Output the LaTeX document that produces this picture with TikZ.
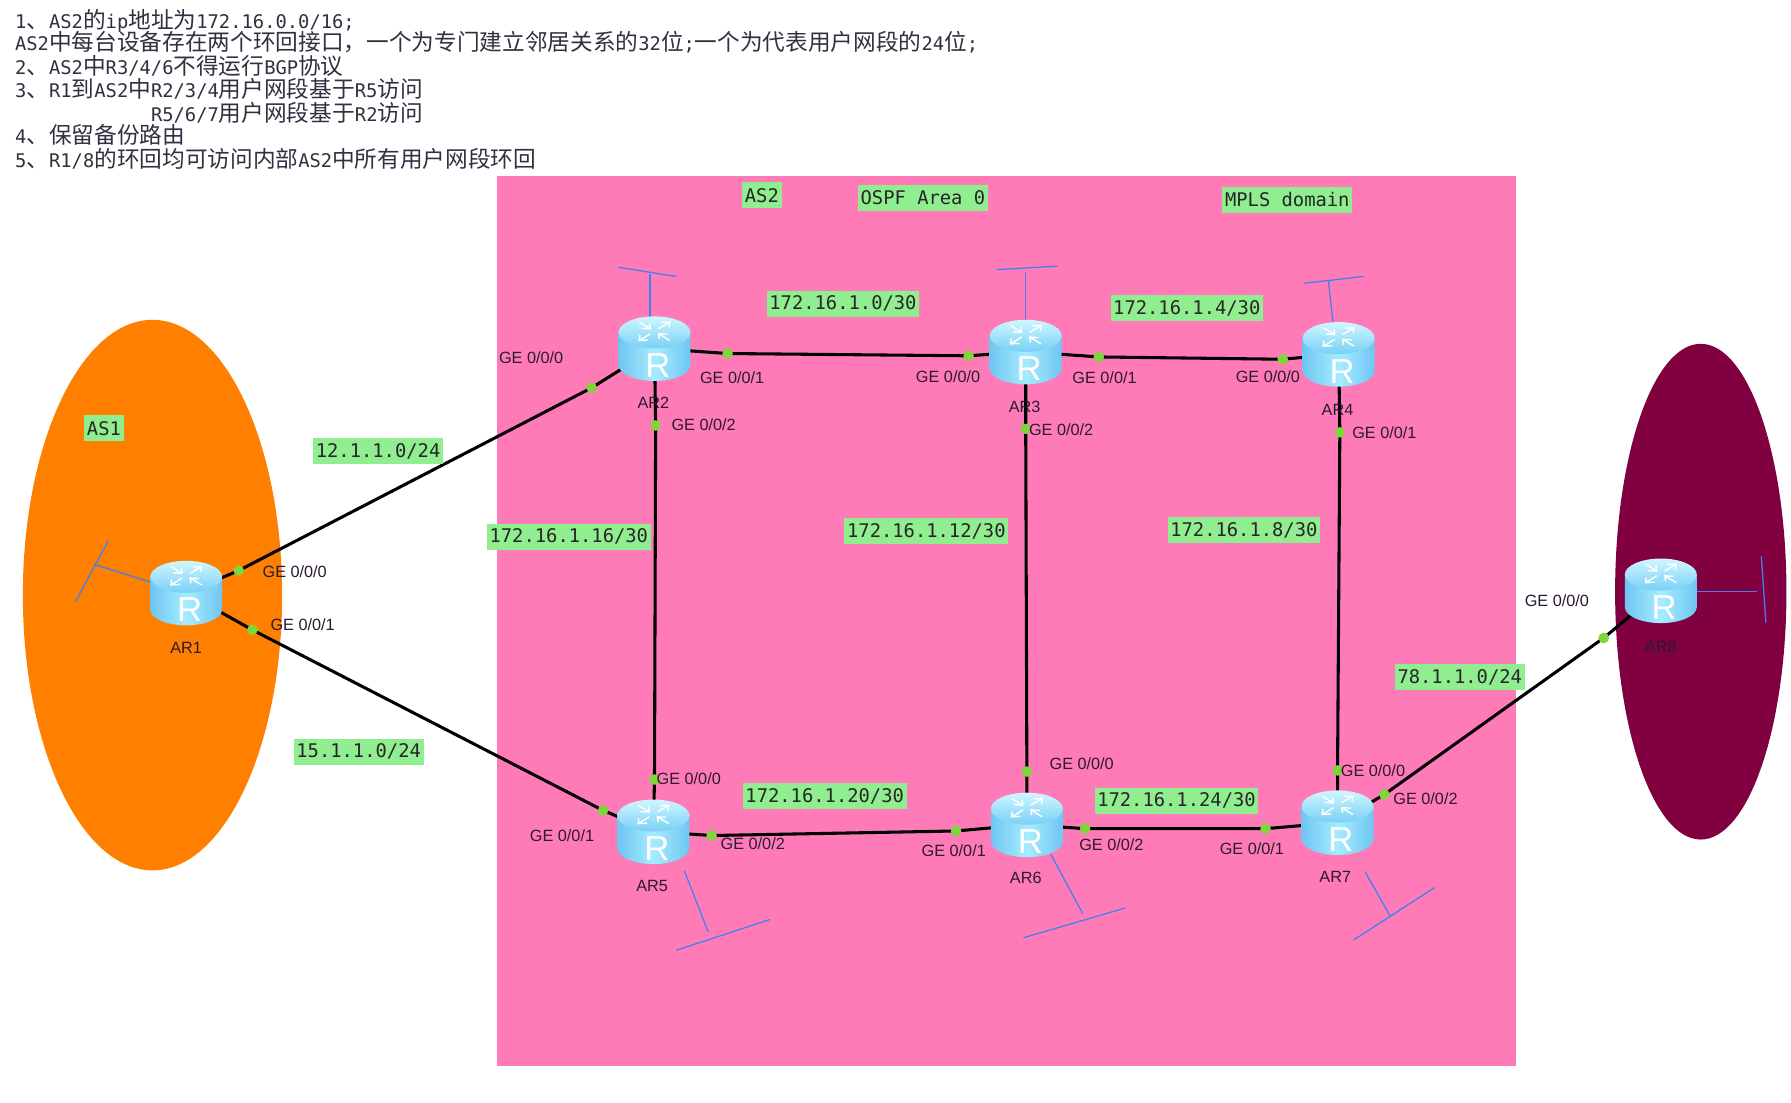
\documentclass[tikz,border=0pt]{standalone}
\usepackage{fontspec}
\setmainfont{Liberation Sans}
\newfontfamily\cjkfont{Noto Sans CJK SC}
\newfontfamily\codefont{DejaVu Sans Mono}
\usetikzlibrary{calc}
\definecolor{zonepink}{HTML}{FF7BB8}
\definecolor{zoneorange}{HTML}{FF8000}
\definecolor{zonemaroon}{HTML}{800040}
\definecolor{tagfill}{HTML}{90EE90}
\definecolor{portgreen}{HTML}{7FD63A}
\definecolor{loopblue}{HTML}{4080F0}
\definecolor{inktext}{HTML}{2A1A30}
\definecolor{headtext}{HTML}{303040}
\definecolor{routeredge}{HTML}{6FC6F2}
\definecolor{routermid}{HTML}{A6ECFF}
\definecolor{routertop}{HTML}{D0F6FF}
\definecolor{routertopb}{HTML}{78D0F6}
\pgfdeclarelayer{zones}
\pgfdeclarelayer{links}
\pgfsetlayers{zones,links,main}
\tikzset{
  x=0.8567pt,y=-0.8567pt,
  link/.style={line width=2.3pt,black},
  loop/.style={line width=0.95pt,loopblue},
  portdot/.style={circle,fill=portgreen,inner sep=0pt,minimum size=8pt},
  porttext/.style={font=\fontsize{12.2}{14}\selectfont,text=inktext,inner sep=0pt,yshift=-0.8pt},
  tag/.style={fill=tagfill,font=\codefont\fontsize{14.1}{16}\selectfont,text=black!85,
    inner sep=0pt,inner xsep=2pt,minimum height=19.5pt,yshift=-0.8pt},
  routerbox/.style={inner sep=0pt,minimum width=54pt,minimum height=49pt},
  headline/.style={anchor=base west,inner sep=0pt,text=headtext,yshift=-1.3pt,
    font=\codefont\fontsize{14.1}{16}\selectfont},
  arrowmark/.style={white,line width=1.05pt,line join=miter},
}
\newcommand{\cn}[1]{{\cjkfont\fontsize{17}{19}\selectfont #1}}

% Cylinder-shaped router icon with its four crossing arrows and the letter R
\newcommand{\routericon}[3]{%
  \node[routerbox] (#1) at (#2,#3) {};
  \begin{scope}[shift={(#1.center)}]
    \shade[left color=routeredge,right color=routeredge,middle color=routermid]
      (-31.5,-14) -- (-31.5,14.5) arc[start angle=180,end angle=0,x radius=31.5,y radius=14]
      -- (31.5,-14) -- cycle;
    \shade[top color=routertop,bottom color=routertopb]
      (0,-14) ellipse[x radius=31.5,y radius=14];
    % two arrows point outwards, two point inwards
    \foreach \a in {45,225}{
      \begin{scope}[shift={(0,-15)},yscale=0.6,rotate=\a]
        \draw[arrowmark] (5,0) -- (19,0) (13,-5) -- (19,0) -- (13,5);
      \end{scope}
    }
    \foreach \a in {135,315}{
      \begin{scope}[shift={(0,-15)},yscale=0.6,rotate=\a]
        \draw[arrowmark] (19,0) -- (5,0) (11,-5) -- (5,0) -- (11,5);
      \end{scope}
    }
    \node[text=white,inner sep=0pt,font=\fontsize{26}{28}\selectfont] (#1-letter) at (3,15) {R};
  \end{scope}}

% Loopback stub: a short stem ending on a crossbar
\newcommand{\loopback}[9]{%
  \coordinate (#1-a) at (#2,#3);
  \coordinate (#1-b) at (#4,#5);
  \coordinate (#1-c) at (#6,#7);
  \coordinate (#1-d) at (#8,#9);
  \draw[loop] (#1-a) -- (#1-b);
  \draw[loop] (#1-c) -- (#1-d);}

\begin{document}
\begin{tikzpicture}
\useasboundingbox (0,0) rectangle (1568,964.8);

\begin{pgfonlayer}{zones}
  \fill[white] (0,0) rectangle (1568,964.8);
  \fill[zonepink] (435,154) rectangle (1327,933.5);
  \fill[zoneorange] (133.5,521) ellipse[x radius=113.5,y radius=241];
  \fill[zonemaroon] (1489,518) ellipse[x radius=75,y radius=217];
\end{pgfonlayer}

% Requirements list
\node[headline] (h1) at (13,23) {1\cn{、}AS2\cn{的}ip\cn{地址为}172.16.0.0/16;};
\node[headline] (h2) at (13,43) {AS2\cn{中每台设备存在两个环回接口，一个为专门建立邻居关系的}32\cn{位};\cn{一个为代表用户网段的}24\cn{位};};
\node[headline] (h3) at (13,63.5) {2\cn{、}AS2\cn{中}R3/4/6\cn{不得运行}BGP\cn{协议}};
\node[headline] (h4) at (13,84) {3\cn{、}R1\cn{到}AS2\cn{中}R2/3/4\cn{用户网段基于}R5\cn{访问}};
\node[headline] (h5) at (132,104.5) {R5/6/7\cn{用户网段基于}R2\cn{访问}};
\node[headline] (h6) at (13,124.5) {4\cn{、保留备份路由}};
\node[headline] (h7) at (13,145) {5\cn{、}R1/8\cn{的环回均可访问内部}AS2\cn{中所有用户网段环回}};

% Routers
\routericon{AR1}{163}{519}
\routericon{AR2}{573}{305}
\routericon{AR3}{898}{308}
\routericon{AR4}{1172}{310}
\routericon{AR5}{572}{728}
\routericon{AR6}{899}{722}
\routericon{AR7}{1171}{720}
\routericon{AR8}{1454}{517}

% Interface dots
\foreach \n/\x/\y in {
  a/209/499.5, b/518/339.5, c/221/551.5, d/528/709.5,
  e/637/309.5, f/848/311.5, g/962/312.5, h/1123/314.5,
  i/574/372.5, j/573/682.5, k/898/375.5, l/899/675.5,
  m/1173/378.5, n/1171/674.5, o/623/731.5, p/837/727.5,
  q/950/725.5, r/1108/725.5, s/1212/695.5, t/1404/558.5}
  \node[portdot] (dot\n) at (\x,\y) {};

% Links and loopback stubs run underneath the routers and dots
\begin{pgfonlayer}{links}
  \draw[link] (AR1.center) -- (dota.center) -- (dotb.center) -- (AR2.center);
  \draw[link] (AR1.center) -- (dotc.center) -- (dotd.center) -- (AR5.center);
  \draw[link] (AR2.center) -- (dote.center) -- (dotf.center) -- (AR3.center);
  \draw[link] (AR3.center) -- (dotg.center) -- (doth.center) -- (AR4.center);
  \draw[link] (AR2.center) -- (doti.center) -- (dotj.center) -- (AR5.center);
  \draw[link] (AR3.center) -- (dotk.center) -- (dotl.center) -- (AR6.center);
  \draw[link] (AR4.center) -- (dotm.center) -- (dotn.center) -- (AR7.center);
  \draw[link] (AR5.center) -- (doto.center) -- (dotp.center) -- (AR6.center);
  \draw[link] (AR6.center) -- (dotq.center) -- (dotr.center) -- (AR7.center);
  \draw[link] (AR7.center) -- (dots.center) -- (dott.center) -- (AR8.center);

  \loopback{lo1}{133}{510}{82}{494}{95}{473}{66}{527}
  \loopback{lo2}{569}{278}{569}{240}{541}{234}{592}{242}
  \loopback{lo3}{898}{280}{898}{238}{873}{236}{926}{233}
  \loopback{lo4}{1167}{282}{1163}{246}{1142}{248}{1194}{242}
  \loopback{lo5}{599}{762}{620}{816}{592}{832}{674}{805}
  \loopback{lo6}{920}{748}{948}{800}{896}{821}{985}{795}
  \loopback{lo7}{1195}{763}{1217}{802}{1185}{823}{1256}{777}
  \loopback{lo8}{1486}{518}{1538}{518}{1542}{487}{1546}{545}
\end{pgfonlayer}

% Router names
\foreach \n/\x/\y in {AR1/163/566,AR2/572/352,AR3/897/355,AR4/1171/358,
                      AR5/571/775,AR6/898/768,AR7/1169/767,AR8/1454/565}
  \node[porttext] (name\n) at (\x,\y) {\n};

% Interface labels
\foreach \k/\t/\x/\y in {
  p1/GE 0\slash 0\slash 0/258/500, p2/GE 0\slash 0\slash 1/265/546,
  p3/GE 0\slash 0\slash 0/465/312, p4/GE 0\slash 0\slash 1/641/330, p5/GE 0\slash 0\slash 2/616/371,
  p6/GE 0\slash 0\slash 0/830/329, p7/GE 0\slash 0\slash 1/967/330, p8/GE 0\slash 0\slash 2/929/375,
  p9/GE 0\slash 0\slash 0/1110/329, p10/GE 0\slash 0\slash 1/1212/378,
  p11/GE 0\slash 0\slash 0/603/681, p12/GE 0\slash 0\slash 1/492/731, p13/GE 0\slash 0\slash 2/659/738,
  p14/GE 0\slash 0\slash 0/947/668, p15/GE 0\slash 0\slash 1/835/744, p16/GE 0\slash 0\slash 2/973/739,
  p17/GE 0\slash 0\slash 0/1202/674, p18/GE 0\slash 0\slash 1/1096/742, p19/GE 0\slash 0\slash 2/1248/698,
  p20/GE 0\slash 0\slash 0/1363/525}
  \node[porttext] (\k) at (\x,\y) {\t};

% Area and subnet tags
\node[tag] (tagAS1) at (91,374) {AS1};
\node[tag] (tagAS2) at (667,170) {AS2};
\node[tag] (tagOSPF) at (808,172) {OSPF Area 0};
\node[tag] (tagMPLS) at (1127,174) {MPLS domain};
\node[tag] (net1) at (738,265) {172.16.1.0/30};
\node[tag] (net2) at (1039,269) {172.16.1.4/30};
\node[tag] (net3) at (331,394) {12.1.1.0/24};
\node[tag] (net4) at (498,469) {172.16.1.16/30};
\node[tag] (net5) at (811,464) {172.16.1.12/30};
\node[tag] (net6) at (1089,463) {172.16.1.8/30};
\node[tag] (net7) at (314,657) {15.1.1.0/24};
\node[tag] (net8) at (722,696) {172.16.1.20/30};
\node[tag] (net9) at (1030,700) {172.16.1.24/30};
\node[tag] (net10) at (1278,592) {78.1.1.0/24};
\end{tikzpicture}
\end{document}
